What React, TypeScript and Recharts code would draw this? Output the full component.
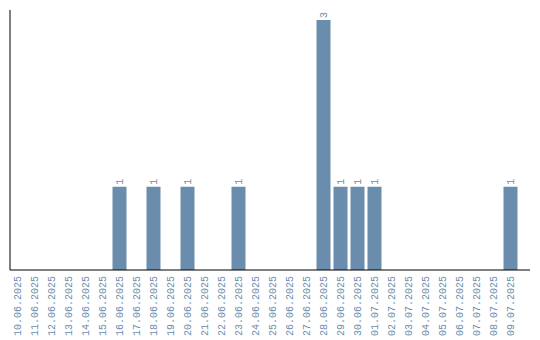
import React from 'react';
import { BarChart, Bar, XAxis, YAxis, LabelList } from 'recharts';

const dates = [
  '10.06.2025', '11.06.2025', '12.06.2025', '13.06.2025', '14.06.2025',
  '15.06.2025', '16.06.2025', '17.06.2025', '18.06.2025', '19.06.2025',
  '20.06.2025', '21.06.2025', '22.06.2025', '23.06.2025', '24.06.2025',
  '25.06.2025', '26.06.2025', '27.06.2025', '28.06.2025', '29.06.2025',
  '30.06.2025', '01.07.2025', '02.07.2025', '03.07.2025', '04.07.2025',
  '05.07.2025', '06.07.2025', '07.07.2025', '08.07.2025', '09.07.2025',
];

const counts = [
  0, 0, 0, 0, 0, 0, 1, 0, 1, 0,
  1, 0, 0, 1, 0, 0, 0, 0, 3, 1,
  1, 1, 0, 0, 0, 0, 0, 0, 0, 1,
];

const data = dates.map((d, i) => ({ date: d, count: counts[i] }));

const BAR_COLOR = '#6b8dad';
const TEXT_COLOR = '#6b8dad';
const FONT = '"Liberation Mono", monospace';

const DateTick = (props: any) => {
  const { x, y, payload } = props;
  return (
    <text
      x={x}
      y={y}
      transform={`rotate(-90, ${x}, ${y})`}
      textAnchor="end"
      dy="0.35em"
      fontSize={10}
      fontFamily={FONT}
      fill={TEXT_COLOR}
    >
      {payload.value}
    </text>
  );
};

const BarValue = (props: any) => {
  const { x, y, width, value } = props;
  if (!value) return null;
  const cx = x + width / 2;
  const cy = y - 2;
  return (
    <text
      x={cx}
      y={cy}
      transform={`rotate(-90, ${cx}, ${cy})`}
      textAnchor="start"
      dy="0.35em"
      fontSize={10}
      fontFamily={FONT}
      fill={TEXT_COLOR}
    >
      {value}
    </text>
  );
};

export default function App() {
  return (
    <div style={{ position: 'absolute', left: 0, top: 0, background: '#fff' }}>
      <BarChart
        width={540}
        height={340}
        data={data}
        margin={{ top: 10, right: 10, left: 9, bottom: 0 }}
        barCategoryGap={0}
      >
        <XAxis
          dataKey="date"
          interval={0}
          height={70}
          tickLine={false}
          tickMargin={0}
          tick={<DateTick />}
          axisLine={{ stroke: '#000', strokeWidth: 1 }}
          padding={{ left: -1.5, right: 11.5 }}
        />
        <YAxis
          width={1}
          domain={[0, 3]}
          tick={false}
          tickLine={false}
          axisLine={{ stroke: '#000', strokeWidth: 1 }}
          padding={{ top: 10, bottom: 0 }}
        />
        <Bar dataKey="count" fill={BAR_COLOR} barSize={14} isAnimationActive={false}>
          <LabelList dataKey="count" content={<BarValue />} />
        </Bar>
      </BarChart>
    </div>
  );
}
